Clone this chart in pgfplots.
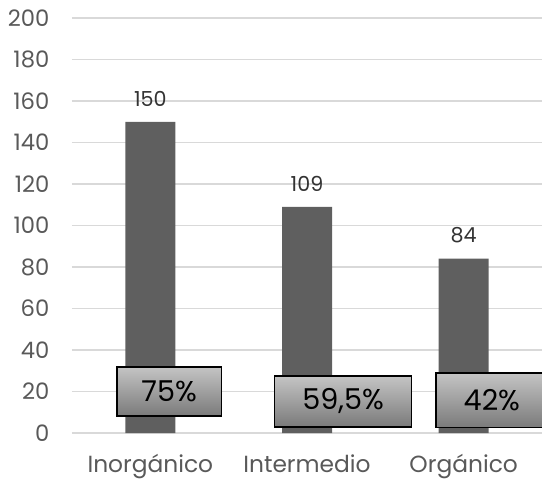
\documentclass[border=0pt]{standalone}
\usepackage{pgfplots}
\pgfplotsset{compat=1.18}
\usepackage{fontspec}
\setmainfont{Poppins}
\definecolor{barc}{HTML}{5F5F5F}
\definecolor{gridc}{HTML}{D9D9D9}
\definecolor{tickc}{HTML}{595959}
\definecolor{boxtop}{HTML}{C4C4C4}
\definecolor{boxbot}{HTML}{7A7A7A}
\begin{document}
\begin{tikzpicture}
\clip (-54pt,-34.5pt) rectangle (352.5pt,324.75pt);
\begin{axis}[
  scale only axis,
  width=352.5pt, height=311.25pt,
  xmin=-0.5, xmax=2.5, ymin=0, ymax=200,
  ytick={0,20,...,200},
  xtick={0,1,2},
  xticklabels={Inorgánico,Intermedio,Orgánico},
  ymajorgrids,
  grid style={color=gridc, line width=1.1pt},
  axis line style={draw=none},
  major tick length=0pt,
  tick label style={color=tickc},
  yticklabel style={font=\fontsize{17}{20}\selectfont, anchor=east, xshift=-13.5pt},
  xticklabel style={font=\fontsize{17.5}{20}\selectfont, anchor=north, yshift=-12.5pt},
  /pgf/number format/assume math mode=true,
  ybar, bar width=37.5pt,
  nodes near coords,
  every node near coord/.append style={font=\fontsize{15.5}{18}\selectfont, color=black!80, yshift=8pt},
]
\addplot[fill=barc, draw=none] coordinates {(0,150) (1,109) (2,84)};
\end{axis}
\begin{axis}[
  scale only axis, width=352.5pt, height=311.25pt,
  xmin=-0.5, xmax=2.5, ymin=0, ymax=200, hide axis]
\node[draw=black, line width=1.1pt, top color=boxtop, bottom color=boxbot,
  minimum width=78.5pt, minimum height=37pt, inner sep=0pt,
  font=\fontsize{21.5}{24}\selectfont] at (axis cs:0.12,20) {75\%};
\node[draw=black, line width=1.1pt, top color=boxtop, bottom color=boxbot,
  minimum width=102.5pt, minimum height=38pt, inner sep=0pt,
  font=\fontsize{21.5}{24}\selectfont] at (axis cs:1.23,15.2) {59,5\%};
\node[draw=black, line width=1.1pt, top color=boxtop, bottom color=boxbot,
  minimum width=84pt, minimum height=41pt, inner sep=0pt,
  font=\fontsize{21.5}{24}\selectfont] at (axis cs:2.18,15.7) {42\%};
\end{axis}
\end{tikzpicture}
\end{document}
